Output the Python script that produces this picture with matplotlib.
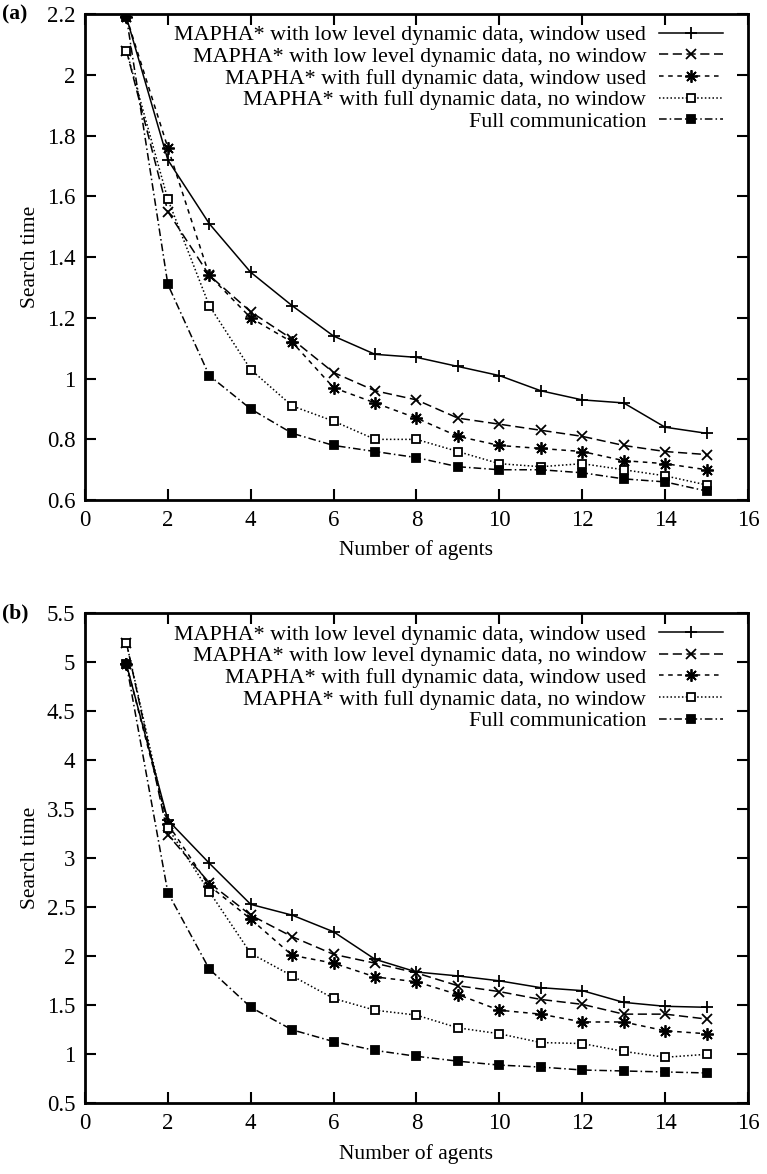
import matplotlib
matplotlib.use("Agg")
import matplotlib.pyplot as plt
from matplotlib.ticker import FuncFormatter, MultipleLocator

# number of agents
agents = list(range(1, 16))

labels = [
    "MAPHA* with low level dynamic data, window used",
    "MAPHA* with low level dynamic data, no window",
    "MAPHA* with full dynamic data, window used",
    "MAPHA* with full dynamic data, no window",
    "Full communication",
]

# panel (a)
a_low_win = [2.19, 1.72, 1.51, 1.35, 1.24, 1.14, 1.08, 1.07, 1.04, 1.01, 0.96, 0.93, 0.92, 0.84, 0.82]
a_low_nowin = [2.08, 1.55, 1.34, 1.22, 1.13, 1.02, 0.96, 0.93, 0.87, 0.85, 0.83, 0.81, 0.78, 0.76, 0.75]
a_full_win = [2.19, 1.76, 1.34, 1.20, 1.12, 0.97, 0.92, 0.87, 0.81, 0.78, 0.77, 0.76, 0.73, 0.72, 0.70]
a_full_nowin = [2.08, 1.59, 1.24, 1.03, 0.91, 0.86, 0.80, 0.80, 0.76, 0.72, 0.71, 0.72, 0.70, 0.68, 0.65]
a_fullcomm = [2.19, 1.31, 1.01, 0.90, 0.82, 0.78, 0.76, 0.74, 0.71, 0.70, 0.70, 0.69, 0.67, 0.66, 0.63]

# panel (b)
b_low_win = [4.98, 3.39, 2.95, 2.53, 2.42, 2.25, 1.97, 1.84, 1.80, 1.75, 1.68, 1.65, 1.53, 1.49, 1.48]
b_low_nowin = [5.20, 3.24, 2.75, 2.42, 2.20, 2.02, 1.93, 1.83, 1.70, 1.64, 1.56, 1.51, 1.41, 1.41, 1.36]
b_full_win = [4.98, 3.35, 2.72, 2.38, 2.01, 1.93, 1.79, 1.74, 1.61, 1.45, 1.41, 1.33, 1.33, 1.24, 1.21]
b_full_nowin = [5.20, 3.31, 2.66, 2.03, 1.80, 1.57, 1.45, 1.40, 1.27, 1.21, 1.12, 1.11, 1.03, 0.97, 1.00]
b_fullcomm = [4.98, 2.65, 1.87, 1.48, 1.25, 1.13, 1.04, 0.98, 0.93, 0.89, 0.87, 0.84, 0.83, 0.82, 0.81]

plt.rcParams["font.family"] = ["Liberation Serif", "DejaVu Serif"]
plt.rcParams["font.size"] = 16

styles = [
    dict(ls="-", marker="+", ms=9, mfc="black"),
    dict(ls=(0, (6, 3)), marker="x", ms=7, mfc="black"),
    dict(ls=(0, (3, 3)), marker=(8, 2, 0), ms=9, mfc="black"),
    dict(ls=(0, (1, 1.5)), marker="s", ms=6, mfc="white"),
    dict(ls=(0, (5, 2, 1, 2)), marker="s", ms=6, mfc="black"),
]


def draw_panel(ax, series, ylim, ystep):
    for vals, lab, st in zip(series, labels, styles):
        ax.plot(agents, vals, color="black", lw=1.1, mec="black", mew=1.3,
                label=lab, **st)
    ax.set_xlim(0, 16)
    ax.set_ylim(*ylim)
    ax.xaxis.set_major_locator(MultipleLocator(2))
    ax.yaxis.set_major_locator(MultipleLocator(ystep))
    ax.yaxis.set_major_formatter(FuncFormatter(lambda v, p: "%g" % round(v, 2)))
    ax.tick_params(direction="in", length=8, width=1.5, top=True, right=True,
                   labelsize=16.5, pad=7)
    for sp in ax.spines.values():
        sp.set_linewidth(2)
    ax.set_ylabel("Search time", fontsize=15.5, labelpad=5)
    ax.set_xlabel("Number of agents", fontsize=15.5, labelpad=7)
    ax.legend(loc="upper right", bbox_to_anchor=(0.979, 1.0), frameon=False,
              markerfirst=False, handlelength=2.9, labelspacing=0.06,
              borderaxespad=0.1, handletextpad=0.6, fontsize=15.8)


fig = plt.figure(figsize=(7.67, 11.74), dpi=100)
ax1 = fig.add_axes([0.1108, 0.574, 0.8644, 0.414])
ax2 = fig.add_axes([0.1108, 0.0602, 0.8644, 0.4174])

draw_panel(ax1, [a_low_win, a_low_nowin, a_full_win, a_full_nowin, a_fullcomm], (0.6, 2.2), 0.2)
draw_panel(ax2, [b_low_win, b_low_nowin, b_full_win, b_full_nowin, b_fullcomm], (0.5, 5.5), 0.5)

fig.text(0.002, 0.988, "(a)", fontsize=15.5, fontweight="bold", va="center", ha="left")
fig.text(0.002, 0.4776, "(b)", fontsize=15.5, fontweight="bold", va="center", ha="left")

fig.savefig("out.png", dpi=100)
